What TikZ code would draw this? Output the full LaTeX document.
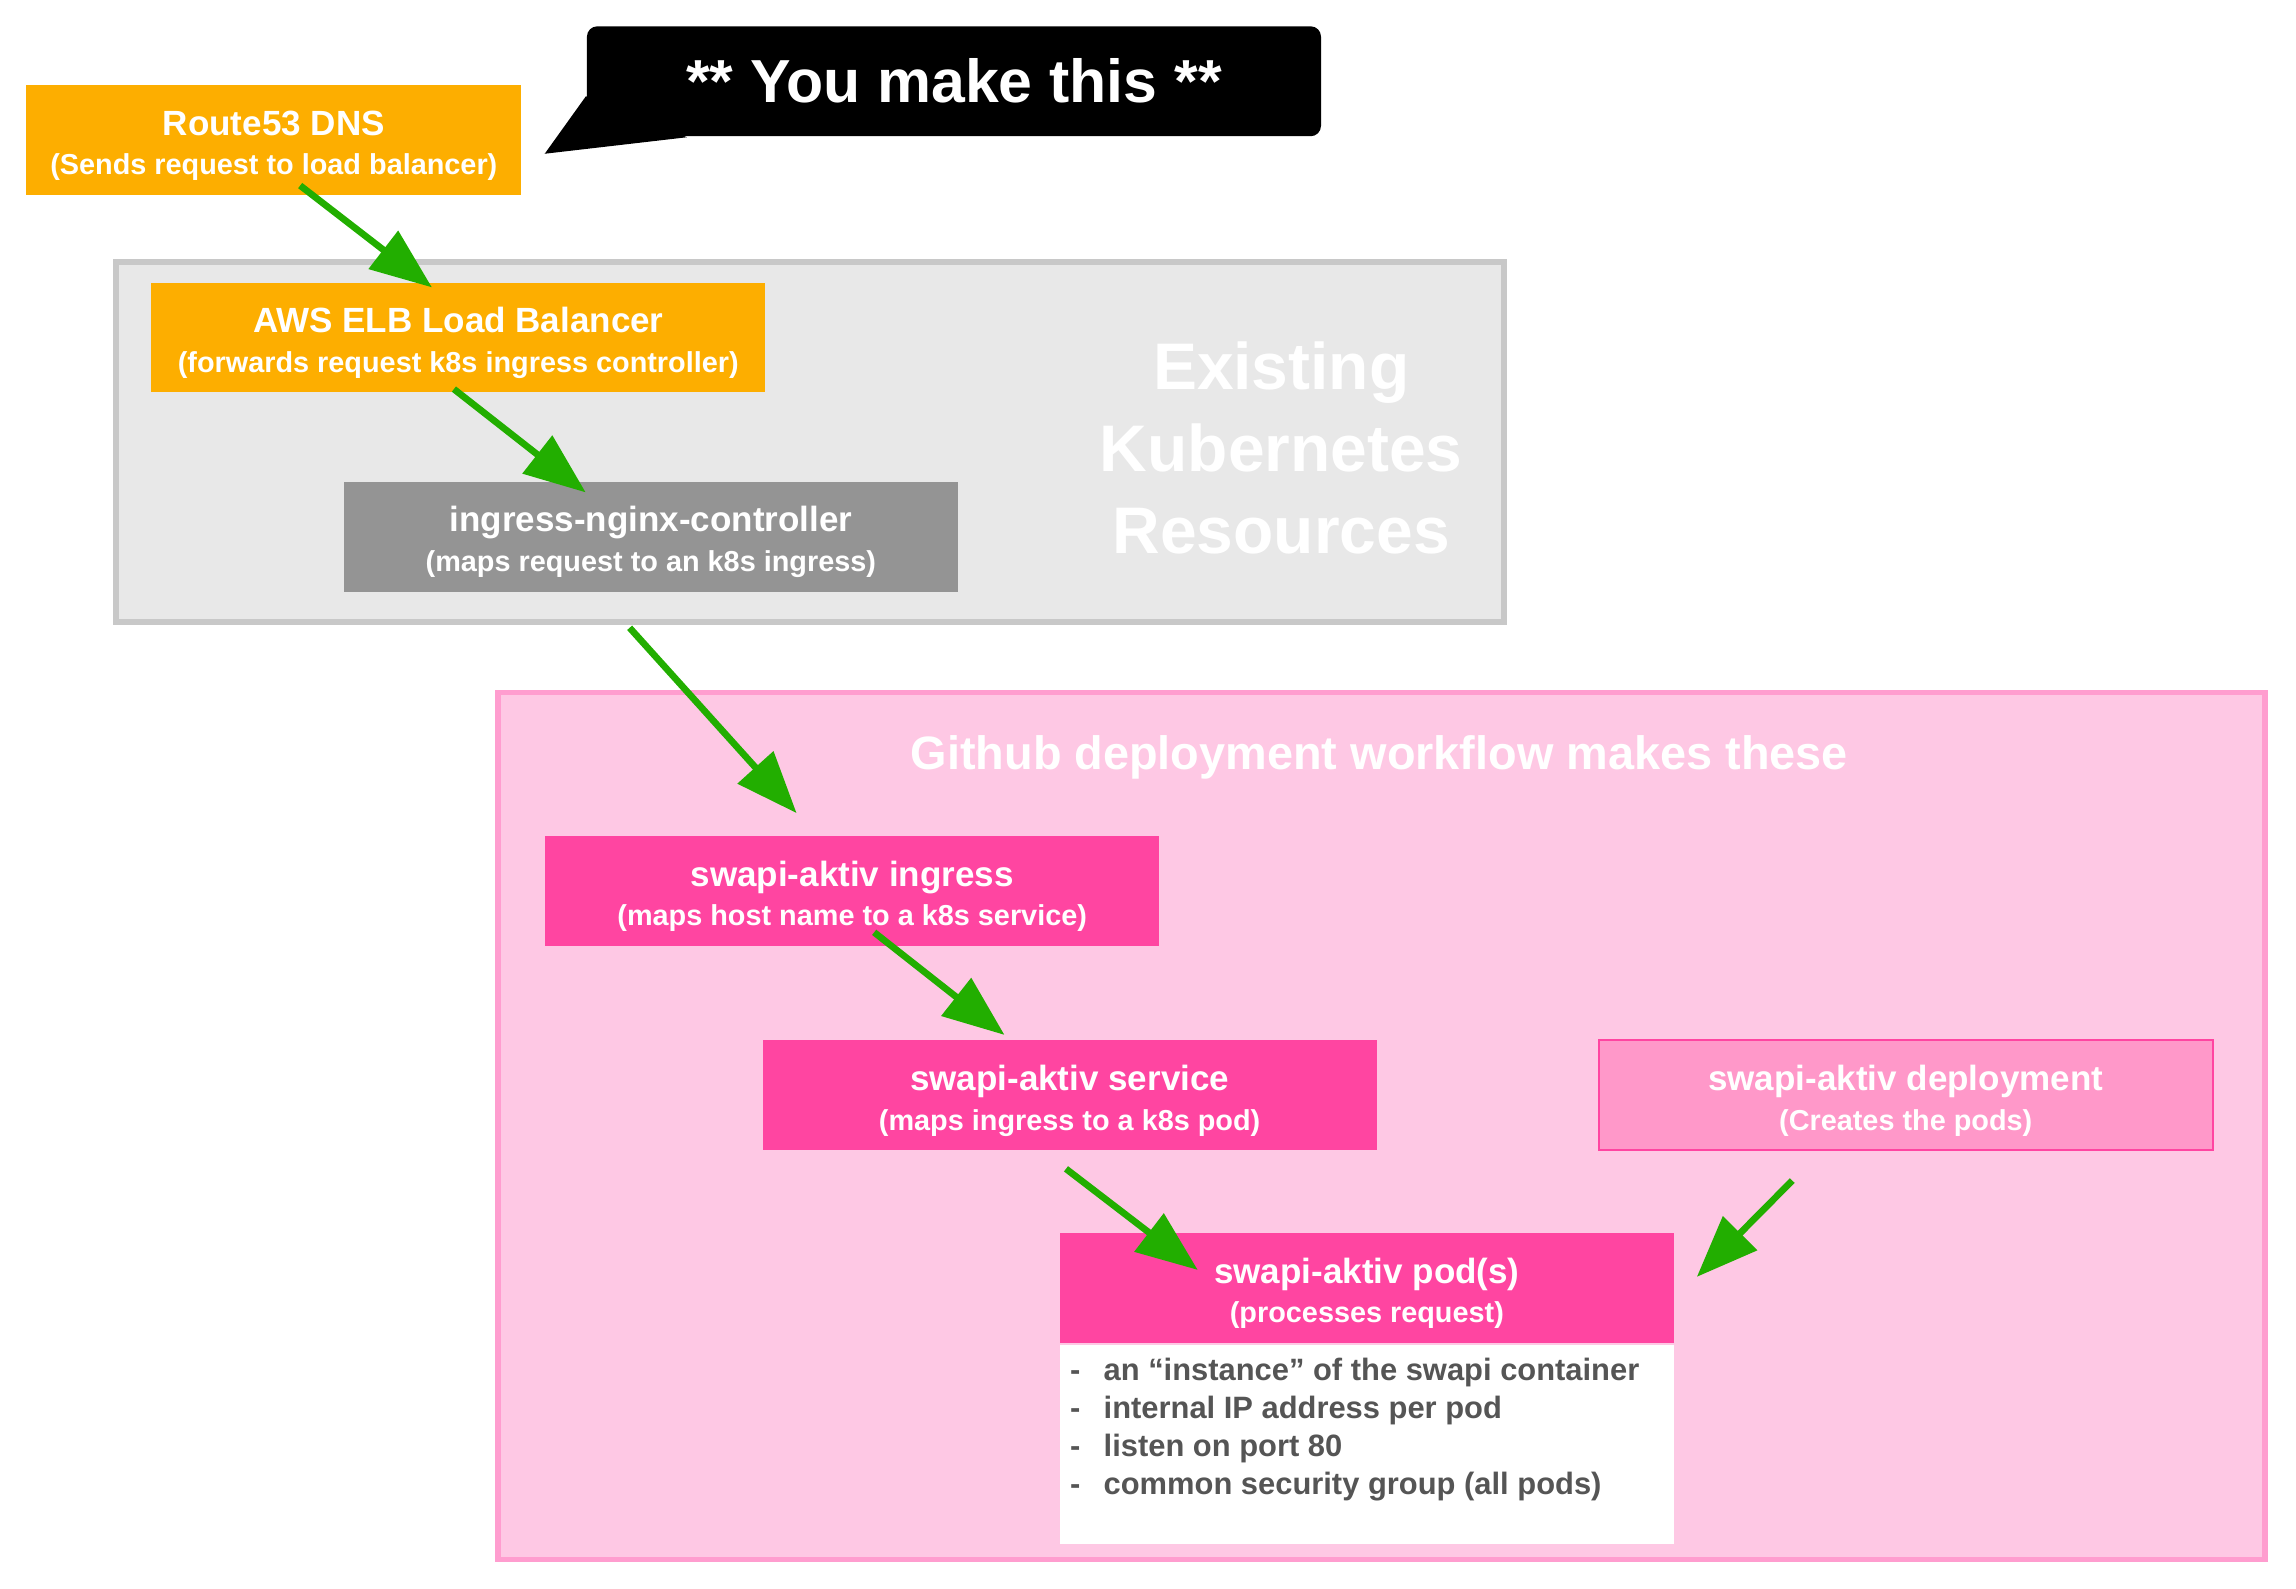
\documentclass[tikz,border=0pt]{standalone}
\usepackage{fontspec}
\setmainfont{Liberation Sans}
\usetikzlibrary{arrows.meta, positioning}
\definecolor{awsorange}{HTML}{FDAE00}
\definecolor{hotpink}{HTML}{FF45A1}
\definecolor{softpink}{HTML}{FF98C9}
\definecolor{palepink}{HTML}{FEC8E4}
\definecolor{pinkedge}{HTML}{FF9DCF}
\definecolor{areagray}{HTML}{E8E8E8}
\definecolor{edgegray}{HTML}{C8C8C8}
\definecolor{nginxgray}{HTML}{949494}
\definecolor{arrowgreen}{HTML}{22AE00}
\definecolor{notegray}{HTML}{555555}
\newcommand{\ttl}[1]{{\fontsize{6.8}{7.7}\selectfont\rule{0pt}{7pt}#1}}

\begin{document}
\begin{tikzpicture}[x=0.01cm, y=-0.01cm,
		res/.style={rectangle, inner sep=0pt, minimum width=4.19cm, minimum height=0.75cm, text=white, align=center, font=\bfseries\fontsize{5.6}{7.7}\selectfont},
		orangebox/.style={res, fill=awsorange},
		graybox/.style={res, fill=nginxgray},
		pinkbox/.style={res, fill=hotpink},
		softbox/.style={res, fill=softpink, draw=hotpink, line width=0.4pt},
		k8sarea/.style={fill=areagray, draw=edgegray, line width=1.1pt},
		gharea/.style={fill=palepink, draw=pinkedge, line width=1.1pt},
		flow/.style={draw=arrowgreen, line width=1.3pt, -{Triangle[length=0.42cm, width=0.32cm]}, arrowgreen}]
		
		\useasboundingbox (0,0) rectangle (1568,1084.5);
		
		%existing resources
		\draw[k8sarea] (79,179) rectangle (1027,425);
		\node[text=white, align=center, font=\bfseries\fontsize{12.8}{15.9}\selectfont] (existing) at (875,306) {Existing\\Kubernetes\\Resources};
		%github workflow
		\draw[gharea] (340,473) rectangle (1547,1065);
		\node[text=white, font=\bfseries\fontsize{9.1}{11}\selectfont] (ghtitle) at (942,517) {Github deployment workflow makes these};
		
		%callout
		\node[fill=black, rounded corners=0.07cm, minimum width=5.01cm, minimum height=0.75cm, text=white, font=\bfseries\fontsize{11.8}{14}\selectfont] (callout) at (651.5,55.5) {** You make this **};
		\coordinate (calltip) at (372,105);
		\fill[black] ([shift={(0,-28)}]callout.south west) -- (calltip) -- ([shift={(69,0)}]callout.south west) -- cycle;
		
		%route53
		\node[orangebox, minimum width=3.38cm] (r53) at (187,95.5) {\ttl{Route53 DNS}\\(Sends request to load balancer)};
		%elb
		\node[orangebox] (elb) at (313,230.5) {\ttl{AWS ELB Load Balancer}\\(forwards request k8s ingress controller)};
		%nginx
		\node[graybox] (nginx) at (444.5,366.5) {\ttl{ingress-nginx-controller}\\(maps request to an k8s ingress)};
		%ingress
		\node[pinkbox] (ing) at (582,608.5) {\ttl{swapi-aktiv ingress}\\(maps host name to a k8s service)};
		%service
		\node[pinkbox] (svc) at (730.5,748) {\ttl{swapi-aktiv service}\\(maps ingress to a k8s pod)};
		%deployment
		\node[softbox] (dep) at (1301.5,748) {\ttl{swapi-aktiv deployment}\\(Creates the pods)};
		%pod
		\node[pinkbox] (pod) at (933.5,879.5) {\ttl{swapi-aktiv pod(s)}\\(processes request)};
		\node[fill=white, inner sep=0pt, minimum width=4.19cm, minimum height=1.36cm, below=0pt of pod] (podbody) {};
		\node[anchor=north west, inner sep=0pt, text=notegray, font=\bfseries\fontsize{6}{7.4}\selectfont] (podlist) at ([shift={(7,6)}]podbody.north west) {%
			\begin{tabular}{@{}l@{\hspace{4.5pt}}l@{}}
				- & an “instance” of the swapi container\\
				- & internal IP address per pod\\
				- & listen on port 80\\
				- & common security group (all pods)
			\end{tabular}};
		
		
		\draw ([shift={(18,-7)}]r53.south) edge[flow] ([shift={(-18,4)}]elb.north);
		\draw ([shift={(-3,-3)}]elb.south) edge[flow] ([shift={(-44.5,8)}]nginx.north);
		\draw ([shift={(-14.5,24)}]nginx.south) edge[flow] ([shift={(-38,-15)}]ing.north);
		\draw ([shift={(15,-10)}]ing.south) edge[flow] ([shift={(-44.5,-3)}]svc.north);
		\draw ([shift={(-2.5,12)}]svc.south) edge[flow] ([shift={(-115.5,26)}]pod.north);
		\draw ([shift={(-77.5,20)}]dep.south) edge[flow] ([shift={(15,-7.5)}]pod.east);
		
\end{tikzpicture}
\end{document}
